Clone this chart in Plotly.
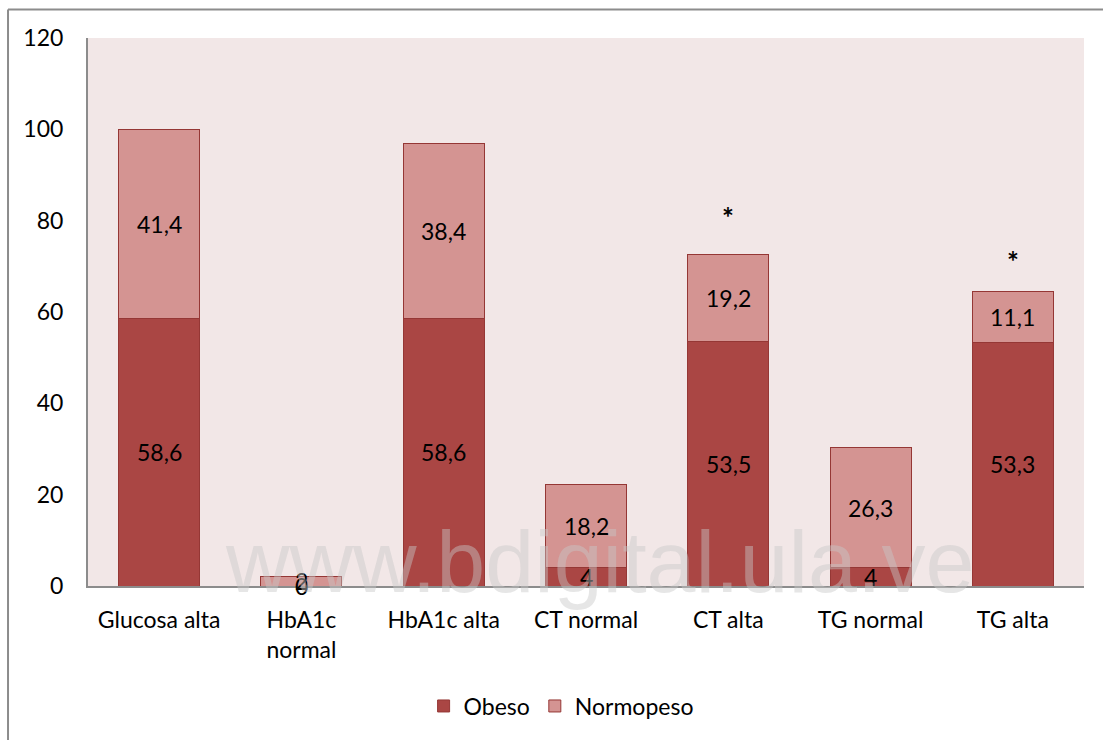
import plotly.graph_objects as go

# Categories and series (percentages)
categories = ["Glucosa alta", "HbA1c<br>normal", "HbA1c alta", "CT normal",
              "CT alta", "TG normal", "TG alta"]
obeso = [58.6, 0, 58.6, 4, 53.5, 4, 53.3]
normopeso = [41.4, 2, 38.4, 18.2, 19.2, 26.3, 11.1]
# Significance markers (category index, y position)
sig_marks = [(4, 80.8), (6, 71.2)]
y_ticks = [0, 20, 40, 60, 80, 100, 120]

FONT = "Lato, Carlito, Calibri, sans-serif"
C_OBESO = "#AA4644"
C_NORMO = "#D49492"
C_EDGE = "#953735"

fig = go.Figure()
fig.add_trace(go.Bar(
    x=categories, y=obeso, name="Obeso", width=0.57,
    marker=dict(color=C_OBESO, line=dict(color=C_EDGE, width=1)),
))
fig.add_trace(go.Bar(
    x=categories, y=normopeso, name="Normopeso", width=0.57,
    marker=dict(color=C_NORMO, line=dict(color=C_EDGE, width=1)),
))

LABEL_FONT = dict(size=23, color="black", family=FONT)
annotations = []
# Value labels centred in each stacked segment
for cat, o, n in zip(categories, obeso, normopeso):
    annotations.append(dict(x=cat, y=o / 2, text=f"{o:g}".replace(".", ","),
                            showarrow=False, font=LABEL_FONT))
    annotations.append(dict(x=cat, y=o + n / 2, text=f"{n:g}".replace(".", ","),
                            showarrow=False, font=LABEL_FONT))
for idx, yv in sig_marks:
    annotations.append(dict(x=categories[idx], y=yv, text="<b>*</b>", showarrow=False,
                            font=dict(size=28, color="black", family=FONT)))

# Watermark overlay
annotations.append(dict(xref="paper", yref="paper", x=0.514, y=-0.05,
                        text="www.bdigital.ula.ve", showarrow=False,
                        font=dict(size=88, color="rgba(200,200,200,0.45)",
                                  family="Liberation Sans, Arial, sans-serif")))

fig.update_layout(
    barmode="stack",
    width=1103, height=740,
    margin=dict(l=88, r=19, t=38, b=154),
    paper_bgcolor="white",
    plot_bgcolor="#F2E7E7",
    font=dict(family=FONT, size=23, color="black"),
    showlegend=True,
    legend=dict(orientation="h", x=0.475, xanchor="center", y=-0.219, yanchor="middle",
                font=dict(size=23, family=FONT), traceorder="normal"),
    annotations=annotations,
    shapes=[
        dict(type="line", xref="paper", yref="paper", x0=-0.0803, x1=1.02,
             y0=1.052, y1=1.052, line=dict(color="#8C8C8C", width=2)),
        dict(type="line", xref="paper", yref="paper", x0=-0.0803, x1=-0.0803,
             y0=-0.29, y1=1.052, line=dict(color="#8C8C8C", width=2)),
    ],
    bargap=0.43,
)
fig.update_xaxes(showline=True, linecolor="#8C8C8C", linewidth=2, showgrid=False,
                 ticks="", tickfont=dict(size=23, family=FONT), ticklabelstandoff=12)
fig.update_yaxes(range=[0, 120], tickvals=y_ticks, showline=True, linecolor="#8C8C8C",
                 linewidth=2, showgrid=False, zeroline=False, ticks="",
                 tickfont=dict(size=23, family=FONT), ticklabelstandoff=18)

fig.write_html("out.html")
